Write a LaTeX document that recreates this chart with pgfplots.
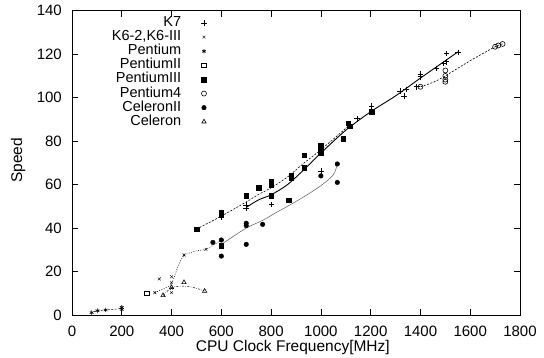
\documentclass[border=0pt]{standalone}
\usepackage{fontspec}
\setmainfont{Liberation Sans}
\usepackage{pgfplots}
\pgfplotsset{compat=1.18}
\usetikzlibrary{calc}
\begin{document}
\begin{tikzpicture}
\begin{axis}[
  scale only axis, width=448pt, height=304.3pt,
  xmin=0, xmax=1800, ymin=0, ymax=140,
  xtick={0,200,...,1800}, ytick={0,20,...,140},
  tick align=inside, major tick length=6pt,
  axis line style={line width=0.9pt}, every tick/.style={line width=0.7pt, black},
  /pgf/number format/assume math mode=true,
  /pgf/number format/1000 sep={},
  tick label style={font=\fontsize{15}{17}\selectfont, inner sep=0pt},
  xticklabel style={yshift=-10pt, text height=10.8pt, text depth=0pt},
  yticklabel style={xshift=-10pt},
  xlabel={CPU Clock Frequency[MHz]}, ylabel={Speed},
  every axis x label/.style={at={(rel axis cs:0.493,-0.107)}, anchor=center, inner sep=0pt, font=\fontsize{15.5}{18}\selectfont},
  every axis y label/.style={at={(rel axis cs:-0.1205,0.508)}, anchor=center, rotate=90, inner sep=0pt, font=\fontsize{15.5}{18}\selectfont},
  legend plot pos=right, legend cell align=right,
  legend style={at={(rel axis cs:0.308,0.988)}, anchor=north east, draw=none, fill=none,
    font=\fontsize{14.5}{16}\selectfont, row sep=1.1pt, column sep=20pt,
    nodes={inner sep=0pt, text height=10pt, text depth=3pt}},
]
% ---- smooth lines (no legend) ----
\addplot[forget plot, black, line width=0.9pt, smooth] coordinates {
 (700,49.5)(750,53)(800,55.3)(866,60)(933,67)(1000,74.5)(1100,85)(1200,93.5)(1300,100.8)(1400,109)(1500,117)(1550,121)};
\addplot[forget plot, black, line width=0.6pt, dash pattern=on 2pt off 1.5pt, smooth] coordinates {
 (500,39.5)(600,45.5)(700,52)(750,55.5)(800,58.5)(866,63.5)(933,70)(1000,76)(1116,87.5)};
\addplot[forget plot, black, line width=0.6pt, dash pattern=on 2pt off 1.5pt, smooth] coordinates {
 (1400,105)(1450,107)(1500,110)(1600,117)(1700,123.4)(1730,124.7)};
\addplot[forget plot, black!65, line width=0.5pt, smooth] coordinates {
 (600,32.5)(700,40)(766,43.5)(815,46.8)(866,50)(933,54.5)(1000,59.5)(1050,64.5)(1066,69.5)};
\addplot[forget plot, black, line width=0.6pt, dash pattern=on 0.8pt off 1.6pt, smooth] coordinates {
 (333,10.4)(366,12)(400,14.5)(425,22)(450,27.3)(500,29.5)(541,30.4)(600,34.5)};
\addplot[forget plot, black, line width=0.5pt, dash pattern=on 2pt off 1.5pt on 0.5pt off 1.5pt, smooth] coordinates {
 (366,9)(400,12.5)(450,13.3)(500,12.3)(533,11)};
\addplot[forget plot, black, line width=0.5pt, dash pattern=on 2pt off 1.5pt] coordinates {
 (75,1)(100,2)(133,2.3)(166,2.6)(200,3)};
% ---- marks ----
\addplot[only marks, mark=+, mark size=2.8pt, black, line width=0.6pt] coordinates {
 (600,45)(700,50.6)(700,49.1)(802,50.9)(1000,66.2)(1204,96.1)(1146,90.3)(1318,103)(1335,100.8)(1342,103.8)
 (1385,105)(1400,110.9)(1400,109.6)(1465,113.5)(1492,115.8)(1503,116.5)(1505,120.4)(1552,120.8)};
\addlegendentry{K7}
\addplot[only marks, mark=x, mark size=2pt, black, line width=0.4pt] coordinates {
 (333,10.3)(351,16.6)(400,17.6)(400,14.9)(400,12.3)(400,10.3)(450,27.6)(538,30.2)(601,34.8)};
\addlegendentry{K6-2,K6-III}
\addplot[only marks, mark=asterisk, mark size=2.2pt, black, line width=0.6pt] coordinates {
 (79,1.1)(102,2)(135,2.3)(200,2.6)(200,3.5)};
\addlegendentry{Pentium}
\addplot[only marks, mark=square, mark size=2.3pt, black, line width=0.6pt] coordinates {
 (300,10)};
\addlegendentry{PentiumII}
\addplot[only marks, mark=square*, mark size=2.3pt, black] coordinates {
 (500,39.5)(600,47.2)(600,46.3)(600,32)(700,55)(750,58.7)(800,61.3)(800,59.8)(800,55)(870,52.8)
 (880,64.4)(880,63.2)(933,73.6)(933,67.8)(1000,78.2)(1000,75.9)(1000,74.5)(1090,81)(1110,88.3)(1116,86.8)(1204,93.5)};
\addlegendentry{PentiumIII}
\addplot[only marks, mark=o, mark size=2.5pt, black, line width=0.6pt] coordinates {
 (1400,105)(1500,112.5)(1500,110)(1500,108.3)(1500,107.3)(1700,123.4)(1713,124)(1730,124.7)};
\addlegendentry{Pentium4}
\addplot[only marks, mark=*, mark size=2.3pt, black] coordinates {
 (566,33.4)(600,34.5)(600,27.1)(700,42.2)(700,41.1)(700,32.5)(766,41.7)(1000,64)(1066,69.5)(1066,61)};
\addlegendentry{CeleronII}
\addplot[only marks, mark=triangle, mark size=2.5pt, black, line width=0.6pt] coordinates {
 (366,9)(400,12.7)(450,15)(533,11)};
\addlegendentry{Celeron}
\end{axis}
\pgfresetboundingbox
\path ($(current axis.south west)+(-72pt,-42pt)$) rectangle ($(current axis.north east)+(24pt,10.7pt)$);
\end{tikzpicture}
\end{document}
